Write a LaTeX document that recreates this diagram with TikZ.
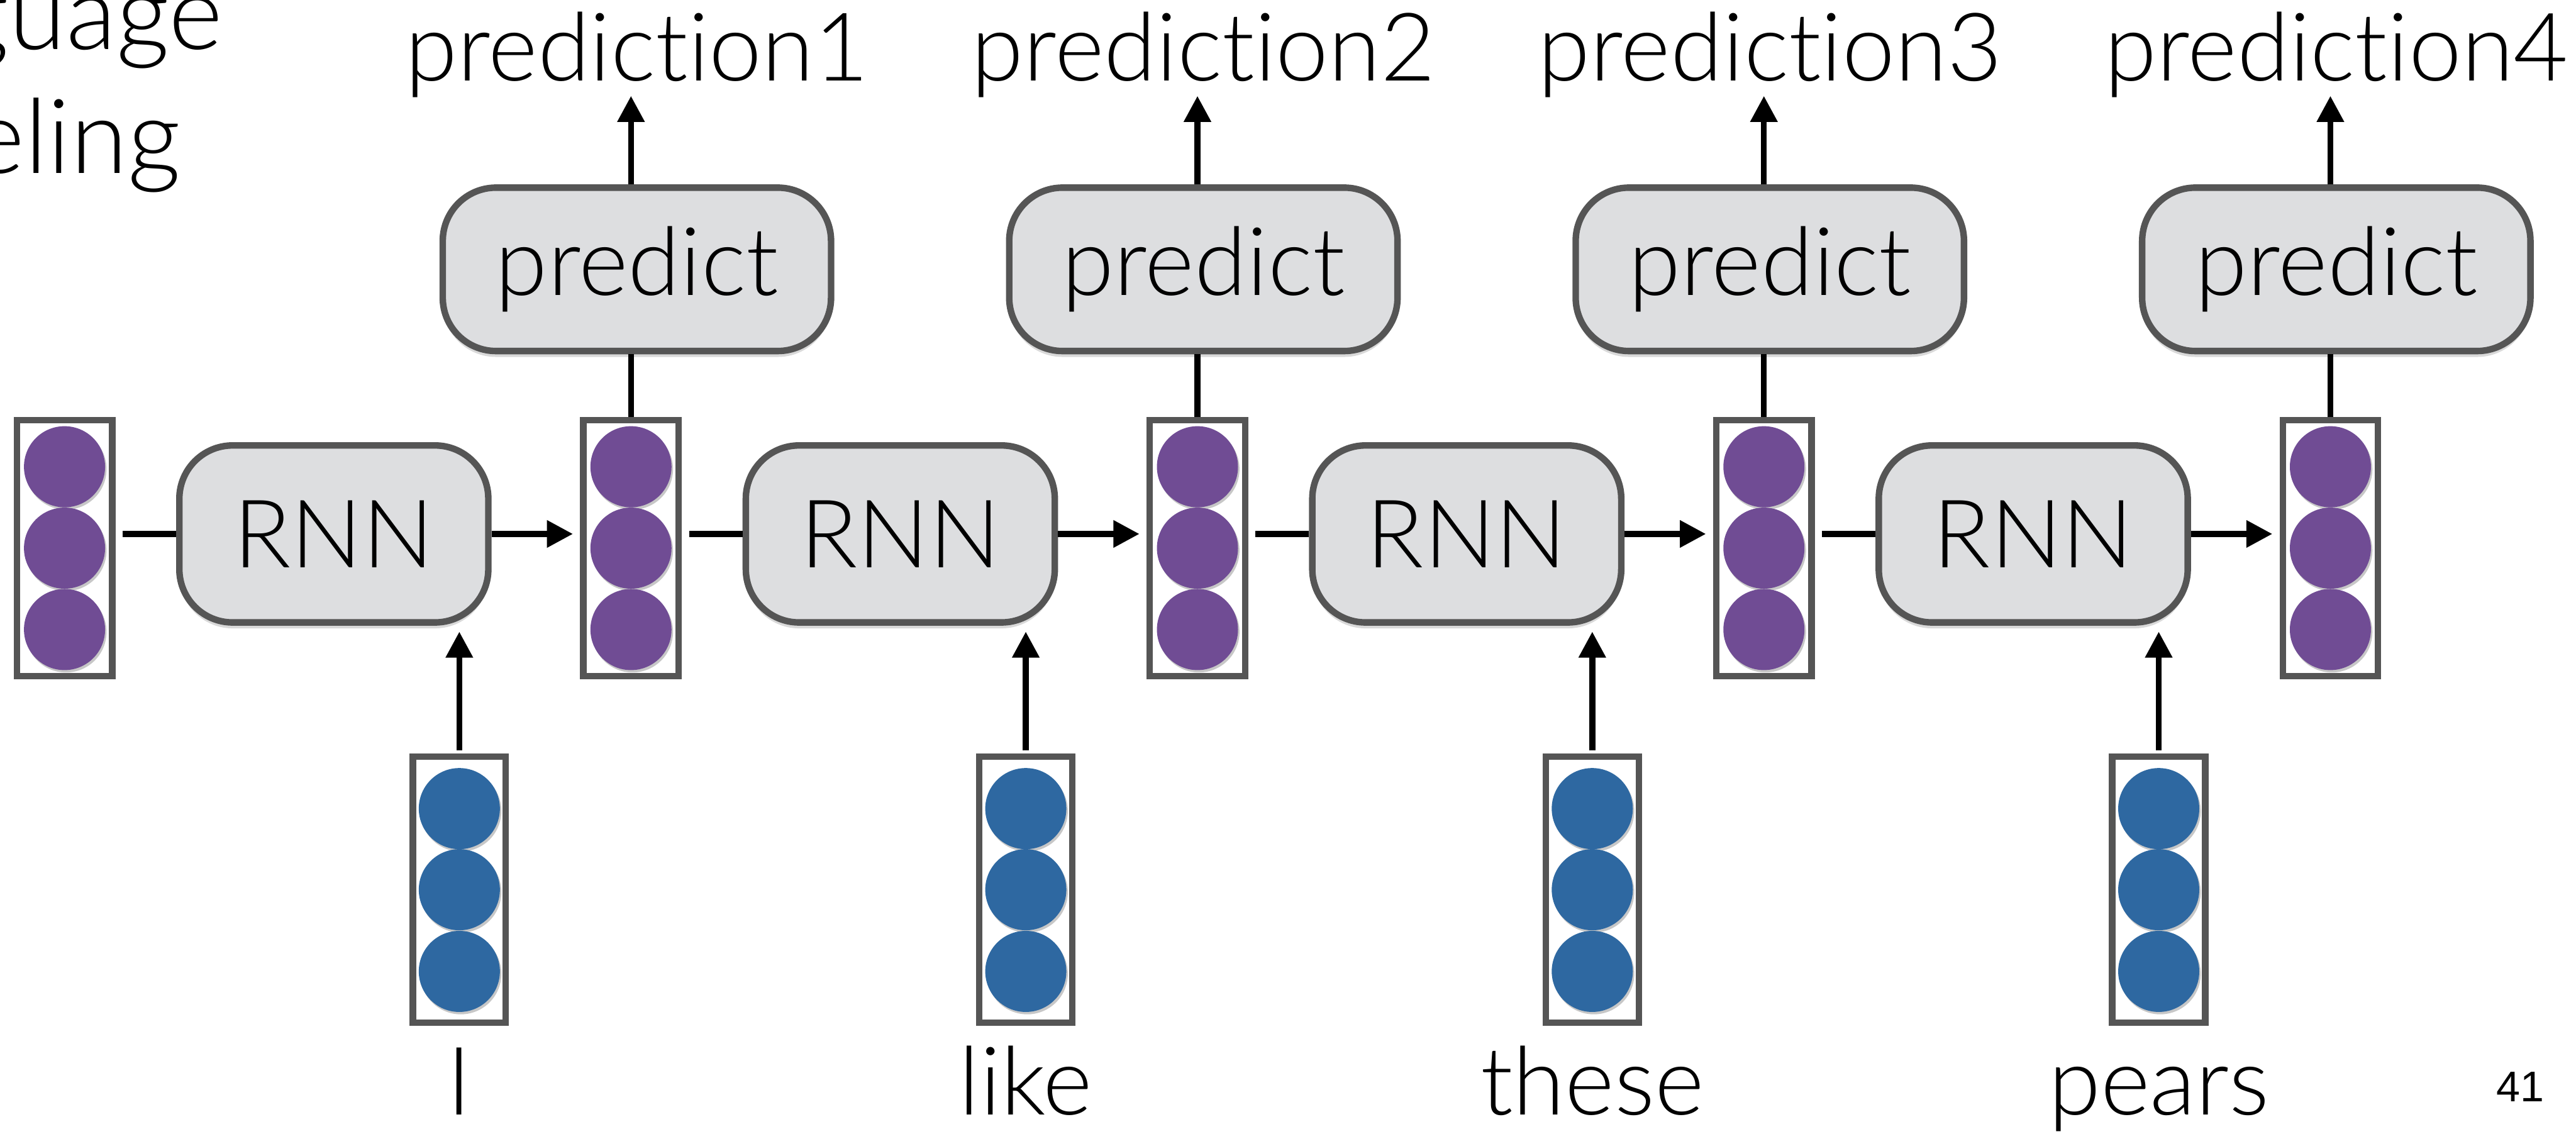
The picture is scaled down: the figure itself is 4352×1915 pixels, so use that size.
\documentclass[tikz,border=0pt]{standalone}
\usepackage{fontspec}
\setmainfont{Lato Light}[Ligatures={NoCommon,NoContextual}]
\newfontfamily\pagefont{Liberation Sans}
\usetikzlibrary{arrows.meta,shadows}

\definecolor{hiddenpurple}{RGB}{112,76,148}
\definecolor{embedblue}{RGB}{46,104,161}
\definecolor{blockfill}{RGB}{221,222,224}
\definecolor{edgegray}{RGB}{85,85,85}

\tikzset{
  block/.style={draw=edgegray, fill=blockfill, line width=2.2pt, rounded corners=18pt,
    inner sep=0pt, font=\fontsize{32}{38}\selectfont,
    drop shadow={shadow xshift=0pt, shadow yshift=-2pt, opacity=0.15, fill=black}},
  rnnbox/.style={block, minimum width=104.4pt, minimum height=59.8pt},
  predbox/.style={block, minimum width=131.2pt, minimum height=55.2pt},
  vecframe/.style={draw=edgegray, fill=white, line width=2.2pt, inner sep=0pt},
  hvec/.style={vecframe, minimum width=32.2pt, minimum height=86.4pt},
  evec/.style={vecframe, minimum width=31.4pt, minimum height=89.8pt},
  neuron/.style={circle, inner sep=0pt, minimum size=27.4pt,
    drop shadow={shadow xshift=0.5pt, shadow yshift=-0.8pt, opacity=0.22, fill=black}},
  conn/.style={line width=2pt, black},
  arr/.style={conn, -{Triangle[length=8.8pt,width=8.8pt]}},
  label/.style={font=\fontsize{32}{38}\selectfont, anchor=base, inner sep=0pt},
  titletext/.style={font=\fontsize{35}{42}\selectfont, anchor=base east, inner sep=0pt},
}

\begin{document}
\begin{tikzpicture}[x=0.2pt, y=-0.2pt]
  \useasboundingbox (0,0) rectangle (4352,1915);
  \clip (0,0) rectangle (4352,1915);
  \fill[white] (0,0) rectangle (4352,1915);

  % slide title, running off the left edge
  \node[titletext] (title1) at (377,83) {Language};
  \node[titletext] (title2) at (306,293) {Modeling};

  % hidden-state vectors
  \foreach \k in {0,...,4} {
    \node[hvec] (h\k) at ({109+957*\k},926) {};
    \node[neuron, fill=hiddenpurple] (h\k a) at ({109+957*\k},788.5) {};
    \node[neuron, fill=hiddenpurple] (h\k b) at ({109+957*\k},926) {};
    \node[neuron, fill=hiddenpurple] (h\k c) at ({109+957*\k},1063.5) {};
  }

  % RNN cells, input embeddings and the words
  \foreach \k/\w in {0/I, 1/like, 2/these, 3/pears} {
    \node[rnnbox] (r\k) at ({564+957*\k},902) {RNN};
    \node[evec] (e\k) at ({776+957*\k},1503) {};
    \node[neuron, fill=embedblue] (e\k a) at ({776+957*\k},1366) {};
    \node[neuron, fill=embedblue] (e\k b) at ({776+957*\k},1503) {};
    \node[neuron, fill=embedblue] (e\k c) at ({776+957*\k},1641) {};
    \node[label] (w\k) at ({776+957*\k},1883) {\w};
  }

  % prediction heads
  \foreach \k in {1,...,4} {
    \node[predbox] (p\k) at ({119+957*\k},455) {predict};
    \node[label] (o\k) at ({119+957*\k},137) {prediction\k};
    \coordinate (t\k) at ({109+957*\k},162);
  }

  % recurrent chain
  \foreach \k [evaluate=\k as \n using int(\k+1)] in {0,...,3} {
    \draw[conn, shorten <=2.4pt] (h\k.east |- r\k.west) -- (r\k.west);
    \draw[arr, shorten >=2.4pt] (r\k.east) -- (r\k.east -| h\n.west);
    \draw[arr, shorten <=1pt, shorten >=2pt] (e\k.north) -- (e\k.north |- r\k.south);
  }

  % outputs
  \foreach \k in {1,...,4} {
    \draw[conn] (h\k.north) -- (h\k.north |- p\k.south);
    \draw[arr] (h\k.north |- p\k.north) -- (t\k);
  }

  % page number
  \node[font=\pagefont\fontsize{14.5}{17}\selectfont, anchor=base, inner sep=0pt] (pagenum) at (4258,1861) {41};
\end{tikzpicture}
\end{document}
